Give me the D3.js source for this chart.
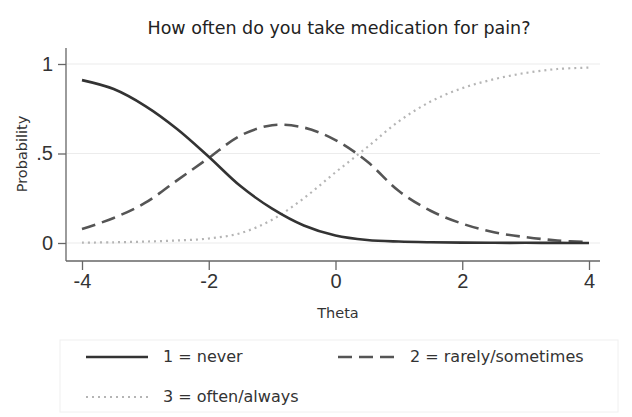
<!DOCTYPE html>
<html>
<head>
<meta charset="utf-8">
<script src="https://cdn.jsdelivr.net/npm/d3@7"></script>
<style>
  html, body { margin: 0; padding: 0; background: #fff; }
  svg { display: block; }
  text { font-family: "DejaVu Sans", sans-serif; }
</style>
</head>
<body>
<svg id="chart" width="632" height="417"></svg>
<script>
// ---- data ----
const title = "How often do you take medication for pain?";
const xLabel = "Theta";
const yLabel = "Probability";
const theta = [-4, -3.5, -3, -2.5, -2, -1.5, -1, -0.5, 0, 0.5, 1, 1.5, 2, 2.5, 3, 3.5, 4];
const pNever = [0.91, 0.86, 0.765, 0.637, 0.482, 0.318, 0.192, 0.098, 0.042, 0.017, 0.008, 0.004, 0.002, 0.001, 0.001, 0.0005, 0.0003];
const pRarely = [0.078, 0.14, 0.225, 0.35, 0.475, 0.60, 0.658, 0.645, 0.575, 0.455, 0.29, 0.18, 0.108, 0.06, 0.033, 0.014, 0.005];
const pOften = [0.002, 0.004, 0.008, 0.014, 0.025, 0.055, 0.13, 0.25, 0.395, 0.535, 0.68, 0.79, 0.865, 0.915, 0.95, 0.972, 0.98];
const seriesNames = ["1 = never", "2 = rarely/sometimes", "3 = often/always"];
const xTicks = [-4, -2, 0, 2, 4];
const xTickLabels = ["-4", "-2", "0", "2", "4"];
const yTicks = [0, 0.5, 1];
const yTickLabels = ["0", ".5", "1"];

const svg = d3.select("#chart");

const x = d3.scaleLinear().domain([-4, 4]).range([82, 589]);
const y = d3.scaleLinear().domain([0, 1]).range([243, 64]);
const plotLeft = 66, plotRight = 600, plotTop = 48, plotBottom = 261;

// title
svg.append("text")
  .attr("x", 339).attr("y", 34)
  .attr("text-anchor", "middle")
  .attr("font-size", 17.5)
  .attr("fill", "#222")
  .text(title);

// gridlines
svg.append("g").selectAll("line")
  .data(yTicks)
  .join("line")
  .attr("x1", plotLeft + 1).attr("x2", plotRight)
  .attr("y1", d => y(d)).attr("y2", d => y(d))
  .attr("stroke", "#ececec").attr("stroke-width", 1.2);

// y axis
const yAxis = d3.axisLeft(y).tickValues(yTicks)
  .tickFormat((d, i) => yTickLabels[i]).tickSize(8).tickPadding(5);
const gy = svg.append("g").attr("transform", `translate(${plotLeft},0)`).call(yAxis);
gy.select(".domain").attr("d", `M0,${plotTop}V${plotBottom}`).attr("stroke", "#666").attr("stroke-width", 1.3);
gy.selectAll(".tick line").attr("stroke", "#666").attr("stroke-width", 1.3);
gy.selectAll(".tick text").attr("font-size", 20).attr("fill", "#333")
  .style("font-family", "'Liberation Sans', Arial, sans-serif");

// x axis
const xAxis = d3.axisBottom(x).tickValues(xTicks)
  .tickFormat((d, i) => xTickLabels[i]).tickSize(9).tickPadding(4);
const gx = svg.append("g").attr("transform", `translate(0,${plotBottom})`).call(xAxis);
gx.select(".domain").attr("d", `M${plotLeft},0H${plotRight}`).attr("stroke", "#666").attr("stroke-width", 1.3);
gx.selectAll(".tick line").attr("stroke", "#666").attr("stroke-width", 1.3);
gx.selectAll(".tick text").attr("font-size", 20).attr("fill", "#333")
  .style("font-family", "'Liberation Sans', Arial, sans-serif");

// axis titles
svg.append("text")
  .attr("x", 338).attr("y", 318)
  .attr("text-anchor", "middle")
  .attr("font-size", 14.5).attr("fill", "#333")
  .text(xLabel);
svg.append("text")
  .attr("transform", "translate(27,154) rotate(-90)")
  .attr("text-anchor", "middle")
  .attr("font-size", 14.5).attr("fill", "#333")
  .text(yLabel);

// series
const styles = [
  { color: "#333", width: 2.6, dash: null },
  { color: "#555", width: 2.6, dash: "14,7" },
  { color: "#b5b5b5", width: 2.2, dash: "2,4" }
];
const seriesVals = [pNever, pRarely, pOften];
const line = d3.line()
  .x(d => x(d[0])).y(d => y(d[1]))
  .curve(d3.curveCatmullRom.alpha(0.5));

const order = [2, 1, 0];
order.forEach(i => {
  svg.append("path")
    .datum(theta.map((t, k) => [t, seriesVals[i][k]]))
    .attr("fill", "none")
    .attr("stroke", styles[i].color)
    .attr("stroke-width", styles[i].width)
    .attr("stroke-dasharray", styles[i].dash)
    .attr("d", line);
});

// legend
svg.append("rect")
  .attr("x", 60).attr("y", 340).attr("width", 558).attr("height", 72)
  .attr("fill", "none").attr("stroke", "#f0f0f0");
const legendPos = [
  { lx: 86, ly: 357, tx: 163 },
  { lx: 338, ly: 357, tx: 410 },
  { lx: 86, ly: 397, tx: 163 }
];
seriesNames.forEach((name, i) => {
  const p = legendPos[i];
  svg.append("line")
    .attr("x1", p.lx).attr("x2", p.lx + 62)
    .attr("y1", p.ly).attr("y2", p.ly)
    .attr("stroke", styles[i].color)
    .attr("stroke-width", styles[i].width)
    .attr("stroke-dasharray", styles[i].dash);
  svg.append("text")
    .attr("x", p.tx).attr("y", p.ly + 5)
    .attr("font-size", 16).attr("fill", "#333")
    .text(name);
});
</script>
</body>
</html>
